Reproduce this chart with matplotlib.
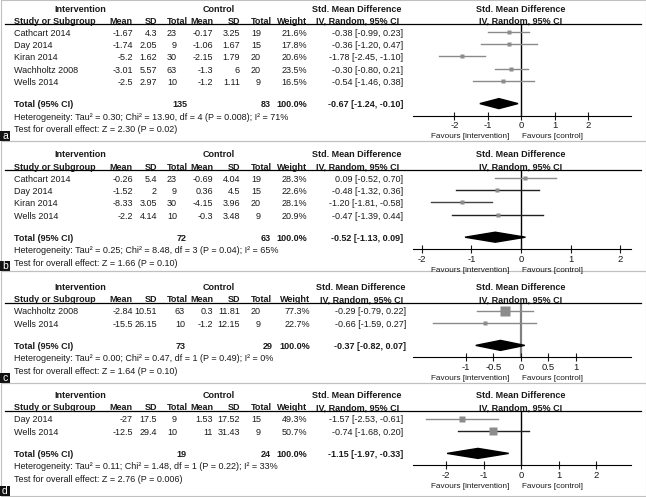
import matplotlib
matplotlib.use("Agg")
import matplotlib.pyplot as plt
from matplotlib.lines import Line2D
from matplotlib.patches import Rectangle

plt.rcParams["font.family"] = ["Liberation Sans", "DejaVu Sans"]
plt.rcParams["axes.unicode_minus"] = False

W, H = 646, 497
FS = 6.5
FS_SMALL = 5.9
TXT = "#1a1a1a"

# ----- panel a -----
a_study = ["Cathcart 2014", "Day 2014", "Kiran 2014", "Wachholtz 2008", "Wells 2014"]
a_int_mean = [-1.67, -1.74, -5.2, -3.01, -2.5]
a_int_sd = [4.3, 2.05, 1.62, 5.57, 2.97]
a_int_n = [23, 9, 30, 63, 10]
a_ctl_mean = [-0.17, -1.06, -2.15, -1.3, -1.2]
a_ctl_sd = [3.25, 1.67, 1.79, 6, 1.11]
a_ctl_n = [19, 15, 20, 20, 9]
a_weight = [21.6, 17.8, 20.6, 23.5, 16.5]
a_smd = [-0.38, -0.36, -1.78, -0.30, -0.54]
a_lo = [-0.99, -1.20, -2.45, -0.80, -1.46]
a_hi = [0.23, 0.47, -1.10, 0.21, 0.38]
a_total = [135, 83, -0.67, -1.24, -0.10]
a_het = [0.30, 13.90, 4, "0.008", 71]
a_z = [2.30, "0.02"]

# ----- panel b -----
b_study = ["Cathcart 2014", "Day 2014", "Kiran 2014", "Wells 2014"]
b_int_mean = [-0.26, -1.52, -8.33, -2.2]
b_int_sd = [5.4, 2, 3.05, 4.14]
b_int_n = [23, 9, 30, 10]
b_ctl_mean = [-0.69, 0.36, -4.15, -0.3]
b_ctl_sd = [4.04, 4.5, 3.96, 3.48]
b_ctl_n = [19, 15, 20, 9]
b_weight = [28.3, 22.6, 28.1, 20.9]
b_smd = [0.09, -0.48, -1.20, -0.47]
b_lo = [-0.52, -1.32, -1.81, -1.39]
b_hi = [0.70, 0.36, -0.58, 0.44]
b_total = [72, 63, -0.52, -1.13, 0.09]
b_het = [0.25, 8.48, 3, "0.04", 65]
b_z = [1.66, "0.10"]

# ----- panel c -----
c_study = ["Wachholtz 2008", "Wells 2014"]
c_int_mean = [-2.84, -15.5]
c_int_sd = [10.51, 26.15]
c_int_n = [63, 10]
c_ctl_mean = [0.3, -1.2]
c_ctl_sd = [11.81, 12.15]
c_ctl_n = [20, 9]
c_weight = [77.3, 22.7]
c_smd = [-0.29, -0.66]
c_lo = [-0.79, -1.59]
c_hi = [0.22, 0.27]
c_total = [73, 29, -0.37, -0.82, 0.07]
c_het = [0.00, 0.47, 1, "0.49", 0]
c_z = [1.64, "0.10"]

# ----- panel d -----
d_study = ["Day 2014", "Wells 2014"]
d_int_mean = [-27, -12.5]
d_int_sd = [17.5, 29.4]
d_int_n = [9, 10]
d_ctl_mean = [1.53, 11]
d_ctl_sd = [17.52, 31.43]
d_ctl_n = [15, 9]
d_weight = [49.3, 50.7]
d_smd = [-1.57, -0.74]
d_lo = [-2.53, -1.68]
d_hi = [-0.61, 0.20]
d_total = [19, 24, -1.15, -1.97, -0.33]
d_het = [0.11, 1.48, 1, "0.22", 33]
d_z = [2.76, "0.006"]

# column right edges (pixels)
COLS = dict(int_mean=133, int_sd=157, int_n=177, ctl_mean=213, ctl_sd=240, ctl_n=261,
            weight=307, ci=403, tot_int=187, tot_ctl=271, sub_int_n=188, sub_weight=307,
            std_head=357)
COLS_C = dict(COLS, int_n=185, weight=310, ci=406, tot_int=186, tot_ctl=273,
              sub_weight=310, std_head=361)

panels = [
    dict(label="a", study=a_study, int_mean=a_int_mean, int_sd=a_int_sd, int_n=a_int_n,
         ctl_mean=a_ctl_mean, ctl_sd=a_ctl_sd, ctl_n=a_ctl_n, weight=a_weight,
         smd=a_smd, lo=a_lo, hi=a_hi, total=a_total, het=a_het, z=a_z,
         top=9, box=(0, 141), xlim=(-3.24, 3.28), ticks=[-2, -1, 0, 1, 2], cols=COLS,
         lc=["#8a8a8a"] * 5, zc="black"),
    dict(label="b", study=b_study, int_mean=b_int_mean, int_sd=b_int_sd, int_n=b_int_n,
         ctl_mean=b_ctl_mean, ctl_sd=b_ctl_sd, ctl_n=b_ctl_n, weight=b_weight,
         smd=b_smd, lo=b_lo, hi=b_hi, total=b_total, het=b_het, z=b_z,
         top=155, box=(141, 271), xlim=(-2.18, 2.22), ticks=[-2, -1, 0, 1, 2], cols=COLS,
         lc=["#8a8a8a", "#222222", "#444444", "#222222"], zc="black"),
    dict(label="c", study=c_study, int_mean=c_int_mean, int_sd=c_int_sd, int_n=c_int_n,
         ctl_mean=c_ctl_mean, ctl_sd=c_ctl_sd, ctl_n=c_ctl_n, weight=c_weight,
         smd=c_smd, lo=c_lo, hi=c_hi, total=c_total, het=c_het, z=c_z,
         top=288, box=(271, 383), xlim=(-1.96, 2.0), ticks=[-1, -0.5, 0, 0.5, 1], cols=COLS_C,
         lc=["#8a8a8a", "#8a8a8a"], zc="#808080"),
    dict(label="d", study=d_study, int_mean=d_int_mean, int_sd=d_int_sd, int_n=d_int_n,
         ctl_mean=d_ctl_mean, ctl_sd=d_ctl_sd, ctl_n=d_ctl_n, weight=d_weight,
         smd=d_smd, lo=d_lo, hi=d_hi, total=d_total, het=d_het, z=d_z,
         top=396, box=(383, 496), xlim=(-2.88, 2.93), ticks=[-2, -1, 0, 1, 2], cols=COLS,
         lc=["#8a8a8a", "#222222"], zc="black"),
]

fig = plt.figure(figsize=(W / 100, H / 100), dpi=100)
fig.patch.set_facecolor("white")


def put(x, y, s, ha="right", bold=False, color=TXT, size=FS):
    fig.text(x / W, 1 - y / H, s, ha=ha, va="center", fontsize=size,
             fontweight="bold" if bold else "normal", color=color)


def ci_text(est, lo, hi):
    return f"{est:.2f} [{lo:.2f}, {hi:.2f}]"


for p in panels:
    c = p["cols"]
    top = p["top"]
    sub = top + 12
    rule = top + 15
    n = len(p["study"])
    rows = [top + 24 + 12.4 * i for i in range(n)]
    tot_y = rows[-1] + 22
    het_y = tot_y + 12.4
    z_y = het_y + 12.4
    axis_y = tot_y + 11

    # panel frame and label
    y0, y1 = p["box"]
    fig.add_artist(Rectangle((0.5 / W, 1 - y1 / H), 645 / W, (y1 - y0) / H,
                             transform=fig.transFigure, fill=False, ec="#c0c0c0", lw=0.8))
    fig.add_artist(Rectangle((0, 1 - y1 / H), 10 / W, 10 / H,
                             transform=fig.transFigure, fc="#111111", ec="none"))
    put(5, y1 - 5, p["label"], ha="center", color="white", size=7.5)

    # headers
    put(80, top, "Intervention", ha="center", bold=True)
    put(219, top, "Control", ha="center", bold=True)
    put(c["std_head"], top, "Std. Mean Difference", ha="center", bold=True)
    put(521, top, "Std. Mean Difference", ha="center", bold=True)
    put(14, sub, "Study or Subgroup", ha="left", bold=True)
    put(132, sub, "Mean", bold=True)
    put(157, sub, "SD", bold=True)
    put(c["sub_int_n"], sub, "Total", bold=True)
    put(213, sub, "Mean", bold=True)
    put(240, sub, "SD", bold=True)
    put(272, sub, "Total", bold=True)
    put(c["sub_weight"], sub, "Weight", bold=True)
    put(c["std_head"] + 1, sub, "IV, Random, 95% CI", ha="center", bold=True)
    put(521, sub, "IV, Random, 95% CI", ha="center", bold=True)
    fig.add_artist(Line2D([5 / W, 641 / W], [1 - rule / H, 1 - rule / H],
                          transform=fig.transFigure, color="black", lw=0.9))

    # study rows
    for i, y in enumerate(rows):
        put(14, y, p["study"][i], ha="left")
        put(c["int_mean"], y, f"{p['int_mean'][i]:g}")
        put(c["int_sd"], y, f"{p['int_sd'][i]:g}")
        put(c["int_n"], y, f"{p['int_n'][i]}")
        put(c["ctl_mean"], y, f"{p['ctl_mean'][i]:g}")
        put(c["ctl_sd"], y, f"{p['ctl_sd'][i]:g}")
        put(c["ctl_n"], y, f"{p['ctl_n'][i]}")
        put(c["weight"], y, f"{p['weight'][i]:.1f}%")
        put(c["ci"], y, ci_text(p["smd"][i], p["lo"][i], p["hi"][i]))

    # total + stats
    t = p["total"]
    put(14, tot_y, "Total (95% CI)", ha="left", bold=True)
    put(c["tot_int"], tot_y, f"{t[0]}", bold=True)
    put(c["tot_ctl"], tot_y, f"{t[1]}", bold=True)
    put(c["weight"], tot_y, "100.0%", bold=True)
    put(c["ci"], tot_y, ci_text(t[2], t[3], t[4]), bold=True)
    tau2, chi2, df, pv, i2 = p["het"]
    put(14, het_y, f"Heterogeneity: Tau² = {tau2:.2f}; Chi² = {chi2:.2f}, df = {df} "
                   f"(P = {pv}); I² = {i2}%", ha="left")
    put(14, z_y, f"Test for overall effect: Z = {p['z'][0]:.2f} (P = {p['z'][1]})", ha="left")

    # forest plot
    X0, X1 = 413, 631
    ax = fig.add_axes([X0 / W, 1 - axis_y / H, (X1 - X0) / W, (axis_y - rule) / H])
    ax.patch.set_visible(False)
    ax.set_xlim(p["xlim"])
    ax.set_ylim(axis_y, rule)
    for s in ("top", "left", "right"):
        ax.spines[s].set_visible(False)
    ax.spines["bottom"].set_linewidth(0.8)
    ax.axvline(0, color=p["zc"], lw=1.0 if p["zc"] == "black" else 1.6, zorder=1)
    for i, y in enumerate(rows):
        ym = y - 1.5
        ax.plot([p["lo"][i], p["hi"][i]], [ym, ym], color=p["lc"][i], lw=1.0, zorder=2)
        side = 2.0 + 0.1 * p["weight"][i]
        ax.plot(p["smd"][i], ym, marker="s", ms=side * 0.72, color="#8c8c8c",
                mec="none", zorder=3, clip_on=False)
    ax.fill([t[3], t[2], t[4], t[2]], [tot_y - 1, tot_y - 6, tot_y - 1, tot_y + 4],
            color="black", zorder=3)
    ax.set_yticks([])
    ax.set_xticks(p["ticks"])
    ax.set_xticklabels([f"{v:g}" for v in p["ticks"]])
    ax.tick_params(axis="x", direction="inout", length=6, width=0.8, pad=1,
                   labelsize=6.8, colors=TXT)

    put(509, axis_y + 21, "Favours [intervention]", size=FS_SMALL)
    put(522, axis_y + 21, "Favours [control]", ha="left", size=FS_SMALL)

fig.savefig("out.png", dpi=100, facecolor="white")
